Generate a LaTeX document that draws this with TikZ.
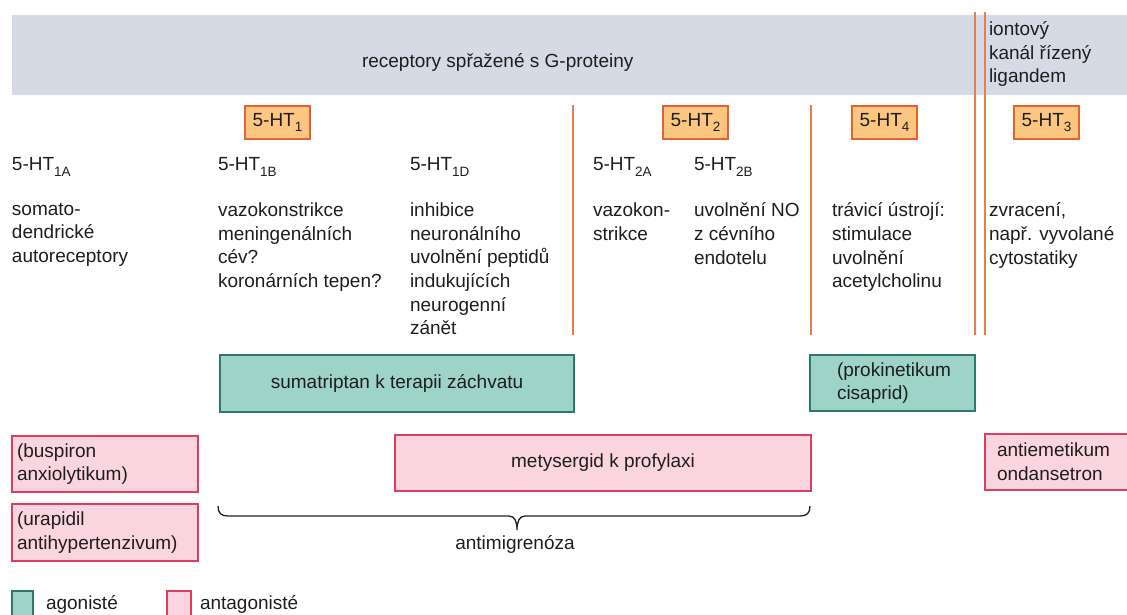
\documentclass[tikz,border=0pt]{standalone}
\usepackage{fontspec}
\setmainfont{Liberation Sans}
\definecolor{band}{RGB}{214,218,228}
\definecolor{orfill}{RGB}{250,198,128}
\definecolor{ordraw}{RGB}{226,98,50}
\definecolor{sepline}{RGB}{228,128,80}
\definecolor{tealfill}{RGB}{158,211,199}
\definecolor{tealdraw}{RGB}{46,122,106}
\definecolor{pinkfill}{RGB}{250,212,222}
\definecolor{pinkdraw}{RGB}{222,62,92}
\definecolor{ink}{RGB}{30,30,30}
\newcommand\hts[1]{\raisebox{-0.28em}{\fontsize{13.5}{14}\selectfont #1}}
\begin{document}
\begin{tikzpicture}[x=1pt,y=-1pt,
  every node/.style={text=ink,inner sep=0pt,outer sep=0pt,font=\fontsize{19}{23.6}\selectfont},
  txt/.style={anchor=north west,align=left,execute at begin node=\strut},
  lbl/.style={anchor=base west},
  htbox/.style={draw=ordraw,fill=orfill,line width=1.2pt,minimum width=65pt,minimum height=33pt,anchor=north west},
  agbox/.style={draw=tealdraw,fill=tealfill,line width=1.5pt,anchor=north west},
  anbox/.style={draw=pinkdraw,fill=pinkfill,line width=1.5pt,anchor=north west},
  sepln/.style={draw=sepline,line width=1.2pt},
]
\useasboundingbox (0,0) rectangle (1127,615);
% header band
\fill[band] (12,15) rectangle (1127,95);
\node[lbl] (title) at (362,68) {receptory spřažené s G-proteiny};
\node[txt] (ion) at (989,21.5) {iontový\\kanál řízený\\ligandem};
% separators
\coordinate (s1t) at (573,105); \coordinate (s1b) at (573,335);
\coordinate (s2t) at (811,105); \coordinate (s2b) at (811,335);
\coordinate (s3t) at (975,12);  \coordinate (s3b) at (975,335);
\coordinate (s4t) at (985,12);  \coordinate (s4b) at (985,335);
\draw[sepln] (s1t) -- (s1b);
\draw[sepln] (s2t) -- (s2b);
\draw[sepln] (s3t) -- (s3b);
\draw[sepln] (s4t) -- (s4b);
% receptor families
\node[htbox] (ht1) at (245,106) {5-HT\hts{1}};
\node[htbox] (ht2) at (663,106) {5-HT\hts{2}};
\node[htbox] (ht4) at (852,106) {5-HT\hts{4}};
\node[htbox] (ht3) at (1014,106) {5-HT\hts{3}};
% subtypes
\node[lbl] (t1a) at (12,171) {5-HT\hts{1A}};
\node[lbl] (t1b) at (218,171) {5-HT\hts{1B}};
\node[lbl] (t1d) at (410,171) {5-HT\hts{1D}};
\node[lbl] (t2a) at (593,171) {5-HT\hts{2A}};
\node[lbl] (t2b) at (694,171) {5-HT\hts{2B}};
% descriptions
\node[txt] (d1a) at (12,203) {somato-\\dendrické\\autoreceptory};
\node[txt] (d1b) at (218,203) {vazokonstrikce\\meningenálních\\cév?\\koronárních tepen?};
\node[txt] (d1d) at (410,203) {inhibice\\neuronálního\\uvolnění peptidů\\indukujících\\neurogenní\\zánět};
\node[txt] (d2a) at (593,203) {vazokon-\\strikce};
\node[txt] (d2b) at (694,203) {uvolnění NO\\z cévního\\endotelu};
\node[txt] (d4) at (832,203) {trávicí ústrojí:\\stimulace\\uvolnění\\acetylcholinu};
\node[txt] (d3) at (989,203) {zvracení,\\např. vyvolané\\cytostatiky};
% agonists
\node[agbox,minimum width=354pt,minimum height=57pt] (suma) at (220,355) {sumatriptan k terapii záchvatu};
\node[agbox,minimum width=165pt,minimum height=56pt] (cisa) at (810,355) {};
\node[anchor=west,align=left] (cisat) at ([xshift=27pt]cisa.west) {(prokinetikum\\cisaprid)};
% antagonists
\node[anbox,minimum width=186pt,minimum height=56pt] (busp) at (12,436) {};
\node[anchor=west,align=left] (buspt) at ([xshift=5pt]busp.west) {(buspiron\\anxiolytikum)};
\node[anbox,minimum width=186pt,minimum height=57pt] (urap) at (12,504) {};
\node[anchor=west,align=left] (urapt) at ([xshift=5pt]urap.west) {(urapidil\\antihypertenzivum)};
\node[anbox,minimum width=416pt,minimum height=56pt] (mety) at (395,435) {metysergid k profylaxi};
\node[anbox,minimum width=160pt,minimum height=56pt] (onda) at (985,434) {};
\node[anchor=west,align=left] (ondat) at ([xshift=12pt]onda.west) {antiemetikum\\ondansetron};
% brace
\draw[ink,line width=1.3pt] (218,506) .. controls (218,513) and (221,516) .. (228,516) -- (509,516)
  .. controls (515,516) and (517,522) .. (517,530) .. controls (517,522) and (519,516) .. (525,516)
  -- (800,516) .. controls (807,516) and (810,513) .. (810,506);
\node[anchor=base] (antim) at (515,549) {antimigrenóza};
% legend
\node[agbox,minimum width=21pt,minimum height=28pt] (lega) at (12,591) {};
\node[lbl] (legat) at (46,609) {agonisté};
\node[anbox,minimum width=24pt,minimum height=28pt] (legn) at (167,591) {};
\node[lbl] (legnt) at (200,609) {antagonisté};
\end{tikzpicture}
\end{document}
